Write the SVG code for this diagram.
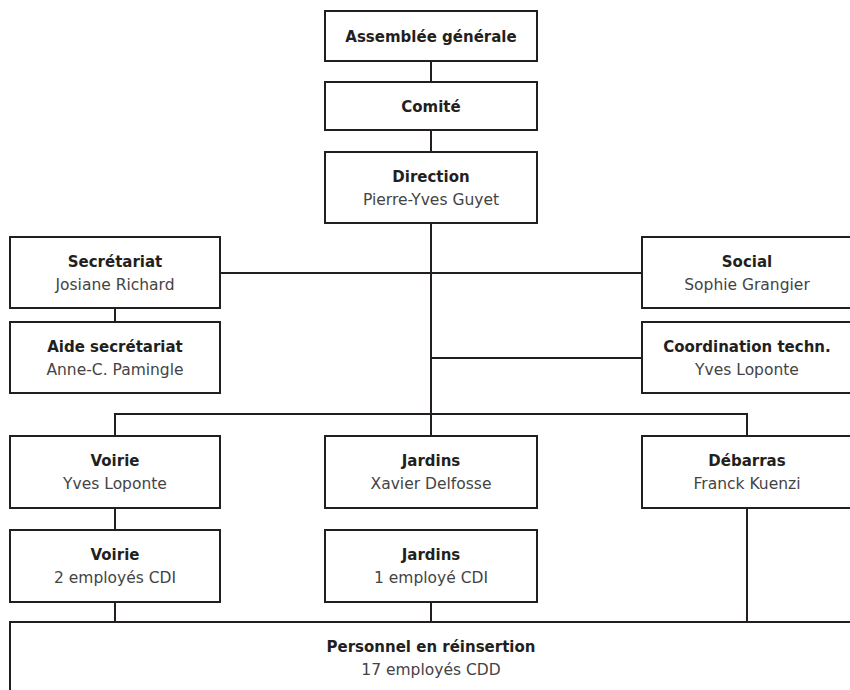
<svg xmlns="http://www.w3.org/2000/svg" width="850" height="690" viewBox="0 0 850 690">
<style>
.box{fill:#fff;stroke:#231f20;stroke-width:2}
.ln{fill:none;stroke:#231f20;stroke-width:2}
text{font-family:"DejaVu Sans","Liberation Sans",sans-serif;font-size:15px;text-anchor:middle}
.t{font-weight:bold;fill:#231f20}
.s{fill:#444;font-size:15.5px}
</style>
<rect width="850" height="690" fill="#fff"/>
<g id="connectors">
<path class="ln" d="M431 61V82M431 130V152M431 223V436M220 273H642M115 308V322M431 358H642M115 436V414H747V436M115 508V530M115 602V622M431 602V622M747 508V622"/>
</g>
<g id="assemblee"><rect class="box" x="325" y="11" width="212" height="50"/><text class="t" x="431" y="42">Assemblée générale</text></g>
<g id="comite"><rect class="box" x="325" y="82" width="212" height="48"/><text class="t" x="431" y="112">Comité</text></g>
<g id="direction"><rect class="box" x="325" y="152" width="212" height="71"/><text class="t" x="431" y="182">Direction</text><text class="s" x="431" y="205">Pierre-Yves Guyet</text></g>
<g id="secretariat"><rect class="box" x="10" y="237" width="210" height="71"/><text class="t" x="115" y="267">Secrétariat</text><text class="s" x="115" y="290">Josiane Richard</text></g>
<g id="social"><rect class="box" x="642" y="237" width="210" height="71"/><text class="t" x="747" y="267">Social</text><text class="s" x="747" y="290">Sophie Grangier</text></g>
<g id="aide"><rect class="box" x="10" y="322" width="210" height="71"/><text class="t" x="115" y="352">Aide secrétariat</text><text class="s" x="115" y="375">Anne-C. Pamingle</text></g>
<g id="coordination"><rect class="box" x="642" y="322" width="210" height="71"/><text class="t" x="747" y="352">Coordination techn.</text><text class="s" x="747" y="375">Yves Loponte</text></g>
<g id="voirie"><rect class="box" x="10" y="436" width="210" height="72"/><text class="t" x="115" y="466">Voirie</text><text class="s" x="115" y="489">Yves Loponte</text></g>
<g id="jardins"><rect class="box" x="325" y="436" width="212" height="72"/><text class="t" x="431" y="466">Jardins</text><text class="s" x="431" y="489">Xavier Delfosse</text></g>
<g id="debarras"><rect class="box" x="642" y="436" width="210" height="72"/><text class="t" x="747" y="466">Débarras</text><text class="s" x="747" y="489">Franck Kuenzi</text></g>
<g id="voirie-cdi"><rect class="box" x="10" y="530" width="210" height="72"/><text class="t" x="115" y="560">Voirie</text><text class="s" x="115" y="583">2 employés CDI</text></g>
<g id="jardins-cdi"><rect class="box" x="325" y="530" width="212" height="72"/><text class="t" x="431" y="560">Jardins</text><text class="s" x="431" y="583">1 employé CDI</text></g>
<g id="reinsertion"><rect class="box" x="10" y="622" width="845" height="80"/><text class="t" x="431" y="652">Personnel en réinsertion</text><text class="s" x="431" y="675">17 employés CDD</text></g>
</svg>
